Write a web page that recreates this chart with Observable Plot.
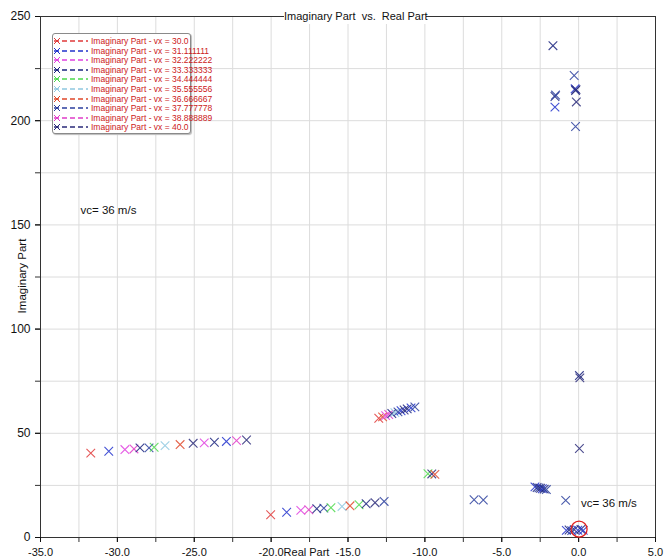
<!DOCTYPE html>
<html><head><meta charset="utf-8">
<script src="https://cdn.jsdelivr.net/npm/d3@7"></script>
<script src="https://cdn.jsdelivr.net/npm/@observablehq/plot@0.6"></script>
<style>
body{margin:0;background:#fff;font-family:"Liberation Sans",Arial,sans-serif;}
#wrap{position:relative;width:665px;height:560px;}
#title{position:absolute;left:284px;width:142px;top:9px;height:15px;line-height:15px;background:#fff;text-align:center;font-size:11px;color:#111;white-space:pre;}
#ylabel{position:absolute;left:22px;top:276px;transform:translate(-50%,-50%) rotate(-90deg);font-size:11.5px;color:#111;white-space:nowrap;}
#legend{position:absolute;left:52px;top:33px;width:137px;height:99px;border:1px solid #8a8a8a;border-radius:3px;background:#fff;box-shadow:1px 1px 1px #bbb;}
.row{position:absolute;left:0;height:10px;display:flex;align-items:center;}
.row span{font-size:8.5px;color:#cc2020;white-space:nowrap;margin-left:2px;}
</style></head>
<body><div id="wrap"><div id="chart"></div><div id="title">Imaginary Part  vs.  Real Part</div><div id="ylabel">Imaginary Part</div><div id="legend"></div></div>
<script>
// Series (legend)
const seriesVx = ["30.0","31.111111","32.222222","33.333333","34.444444","35.555556","36.666667","37.777778","38.888889","40.0"];
const seriesColors = ["#e03a3a","#2233cc","#e040e0","#1a237e","#4cd94c","#8ec8e0","#e0482a","#2c3f9e","#e03cc8","#2b2b7a"];

// Poles: real part, imaginary part, series index
const re = [
  -31.73,-30.56,-29.51,-28.92,-28.53,-27.94,-27.61,-26.90,-25.92,-25.07,-24.35,-23.69,-22.91,-22.25,-21.60,
  -20.03,-18.99,-18.07,-17.55,-17.03,-16.57,-16.11,-15.39,-14.87,-14.28,-13.82,-13.24,-12.65,
  -13.0,-12.75,-12.55,-12.35,-12.15,-11.95,-11.75,-11.55,-11.35,-11.15,-10.9,-10.65,
  -9.8,-9.55,-9.35,
  -6.8,-6.2,
  -2.84,-2.7,-2.58,-2.48,-2.36,-2.24,-2.1,
  -0.84,
  0.05,
  0.05,0.08,
  -0.8,-0.62,-0.45,-0.28,-0.05,0.15,0.3,
  -1.67,-0.29,-0.23,-0.2,-0.17,-0.15,-1.54,-1.5,-1.54,-0.2
];
const im = [
  40.5,41.4,42.2,42.5,43.0,43.0,43.3,44.1,44.6,45.2,45.4,45.7,46.1,46.5,46.8,
  10.9,12.1,13.0,13.3,13.8,14.1,14.3,14.9,15.2,15.7,16.2,16.7,17.3,
  57.2,57.9,58.5,59.0,59.5,59.9,60.3,60.8,61.2,61.7,62.2,62.7,
  30.6,30.5,30.3,
  18.1,18.0,
  24.3,24.0,23.8,23.6,23.4,23.2,23.0,
  17.8,
  42.7,
  77.7,76.6,
  3.4,3.6,3.3,3.7,3.5,3.9,3.4,
  236.0,221.7,215.3,214.5,214.9,209.0,211.6,212.3,206.5,197.2
];
const sid = [
  0,1,2,8,3,7,4,5,6,9,2,3,1,8,9,
  0,1,2,8,3,7,4,5,6,4,3,9,7,
  0,6,2,8,3,5,7,1,9,3,1,7,
  4,9,6,
  7,7,
  1,3,7,9,1,3,7,
  7,
  9,
  3,9,
  1,3,7,9,1,3,1,
  3,7,1,3,9,9,3,7,1,7
];

// Axis ticks
const xTicks = [-35,-30,-25,-20,-15,-10,-5,0,5];
const xMinor = [-35,-32.5,-30,-27.5,-25,-22.5,-20,-17.5,-15,-12.5,-10,-7.5,-5,-2.5,0,2.5,5];
const yTicks = [0,50,100,150,200,250];
const yMinor = [0,25,50,75,100,125,150,175,200,225,250];

// Annotations
const notes = [{re:-32.4, im:157, text:"vc= 36 m/s"},{re:0.15, im:16.3, text:"vc= 36 m/s"}];
const circled = [{re:0.03, im:4.0}];

const poles = re.map((r,i)=>({re:r, im:im[i], s:sid[i]}));

const chart = Plot.plot({
  width:665, height:560,
  marginLeft:40, marginRight:10, marginTop:16, marginBottom:23,
  x:{domain:[-35,5], label:null},
  y:{domain:[0,250], label:null},
  color:{domain:d3.range(seriesColors.length), range:seriesColors},
  style:{fontFamily:"Liberation Sans, Arial, sans-serif", fontSize:"11.5px", color:"#111", background:"#fff"},
  marks:[
    Plot.gridX(xMinor, {stroke:"#dcdcdc", strokeOpacity:1}),
    Plot.gridY(yMinor, {stroke:"#dcdcdc", strokeOpacity:1}),
    Plot.frame({stroke:"#333"}),
    Plot.axisX({ticks:xMinor, tickFormat:()=>"", tickSize:5, stroke:"#333"}),
    Plot.axisX({ticks:xTicks, tickFormat:d=>d.toFixed(1), tickSize:5, tickPadding:6, fontSize:11}),
    Plot.axisY({ticks:yMinor, tickFormat:()=>"", tickSize:5, stroke:"#333"}),
    Plot.axisY({ticks:yTicks, tickFormat:d=>String(d), tickSize:5, tickPadding:5, fontSize:12}),
    Plot.dot(poles, {x:"re", y:"im", symbol:"times", r:4, stroke:"s", strokeWidth:1.1, strokeOpacity:0.85}),
    Plot.dot(circled, {x:"re", y:"im", r:8, stroke:"#e02020", strokeWidth:1.3}),
    Plot.text(notes, {x:"re", y:"im", text:"text", textAnchor:"start", fontSize:11.5}),
    Plot.text(["Real Part"], {x:-17.7, frameAnchor:"bottom", dy:18, fontSize:11})
  ]
});
document.getElementById("chart").appendChild(chart);

// Legend
const lg = document.getElementById("legend");
seriesVx.forEach((v,i)=>{
  const row = document.createElement("div");
  row.className="row";
  row.style.top = (2 + i*9.6)+"px";
  const c = seriesColors[i];
  row.innerHTML = `<svg width="36" height="10"><line x1="1" y1="5" x2="35" y2="5" stroke="${c}" stroke-width="1.6" stroke-dasharray="5,3"/><path d="M1,2 L7,8 M1,8 L7,2" stroke="${c}" stroke-width="1"/></svg><span>Imaginary Part - vx = ${v}</span>`;
  lg.appendChild(row);
});
</script>
</body></html>
